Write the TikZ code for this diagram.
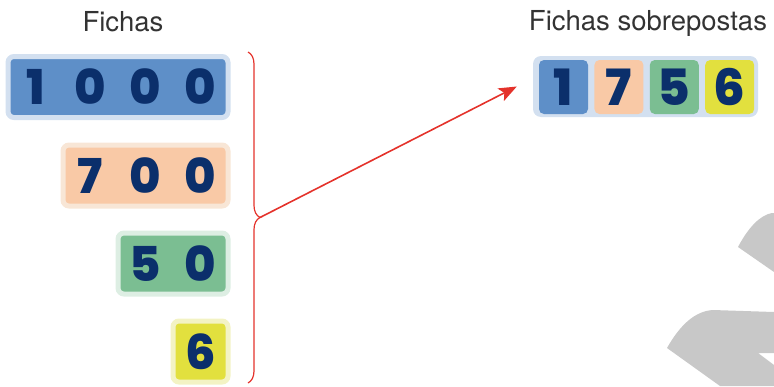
\documentclass[tikz,border=0pt]{standalone}
\usepackage{fontspec}
\setmainfont{TeX Gyre Heros}
\newfontfamily\digitfont{Poppins}[BoldFont={Poppins ExtraBold}]
\usetikzlibrary{positioning, arrows.meta, decorations.pathreplacing}

\definecolor{navy}{HTML}{0B2F6B}
\definecolor{redline}{HTML}{E4322B}
\definecolor{labelgray}{HTML}{333333}
\definecolor{bluefill}{HTML}{5E8FC8}
\definecolor{blueedge}{HTML}{D3E0F0}
\definecolor{peachfill}{HTML}{F9C9A6}
\definecolor{peachedge}{HTML}{F8E6D6}
\definecolor{greenfill}{HTML}{7BBE92}
\definecolor{greenedge}{HTML}{DDEEE3}
\definecolor{yellowfill}{HTML}{E2E03E}
\definecolor{yellowedge}{HTML}{F3F3C4}
\definecolor{markgray}{HTML}{C8C8C8}

\newcommand\cell[1]{\makebox[55pt]{#1}}
\tikzset{
  tile/.style={rounded corners=6pt, line width=5pt, inner xsep=0pt, inner ysep=0pt,
    minimum height=61pt, anchor=east, text=navy,
    font=\digitfont\bfseries\fontsize{48}{48}\selectfont},
  chip/.style={rounded corners=5pt, inner sep=0pt, minimum width=49pt, minimum height=54pt,
    text=navy, font=\digitfont\bfseries\fontsize{50}{50}\selectfont},
  caption/.style={text=labelgray, font=\fontsize{27.5}{30}\selectfont, inner sep=0pt}
}

\begin{document}
\begin{tikzpicture}[x=1pt, y=-1pt]
  \useasboundingbox (0,0) rectangle (774,386);
  % watermark pieces
  \fill[markgray] (738,247) .. controls (748,228) and (760,215) .. (772,213)
        -- (774,213) -- (774,272) -- cycle;
  \fill[markgray] (667,348) .. controls (680,325) and (695,311) .. (713,310)
        -- (774,312) -- (774,353) -- (758,353) -- (774,365) -- (774,386)
        -- (720,386) -- cycle;

  \node[caption] (left) at (123,22) {Fichas};
  \node[caption] (right) at (648,23) {Fichas sobrepostas};

  \node[tile, fill=bluefill, draw=blueedge] (mil) at (230.5,87) {\cell{1}\cell{0}\cell{0}\cell{0}};
  \node[tile, fill=peachfill, draw=peachedge] (cem) at (230.5,175.5) {\cell{7}\cell{0}\cell{0}};
  \node[tile, fill=greenfill, draw=greenedge] (dez) at (230.5,263.5) {\cell{5}\cell{0}};
  \node[tile, fill=yellowfill, draw=yellowedge] (uni) at (230.5,351.5) {\cell{6}};

  \node[fill=blueedge, rounded corners=8pt, minimum width=225pt, minimum height=61pt,
        inner sep=0pt] (sum) at (645.5,86.5) {};
  \node[chip, fill=bluefill] (s1) at (563.5,87) {1};
  \node[chip, fill=peachfill, right=6pt of s1] (s2) {7};
  \node[chip, fill=greenfill, right=6pt of s2] (s3) {5};
  \node[chip, fill=yellowfill, right=6pt of s3] (s4) {6};

  \draw[redline, line width=1.2pt, decorate, decoration={brace, amplitude=12pt}]
    (248,52) -- (248,383);
  \coordinate (tip) at (260,217.5);
  \draw[redline, line width=1.6pt, -{Stealth[length=18pt, width=14pt, inset=4pt]}]
    (tip) -- ([xshift=-16pt]sum.west);
\end{tikzpicture}
\end{document}
